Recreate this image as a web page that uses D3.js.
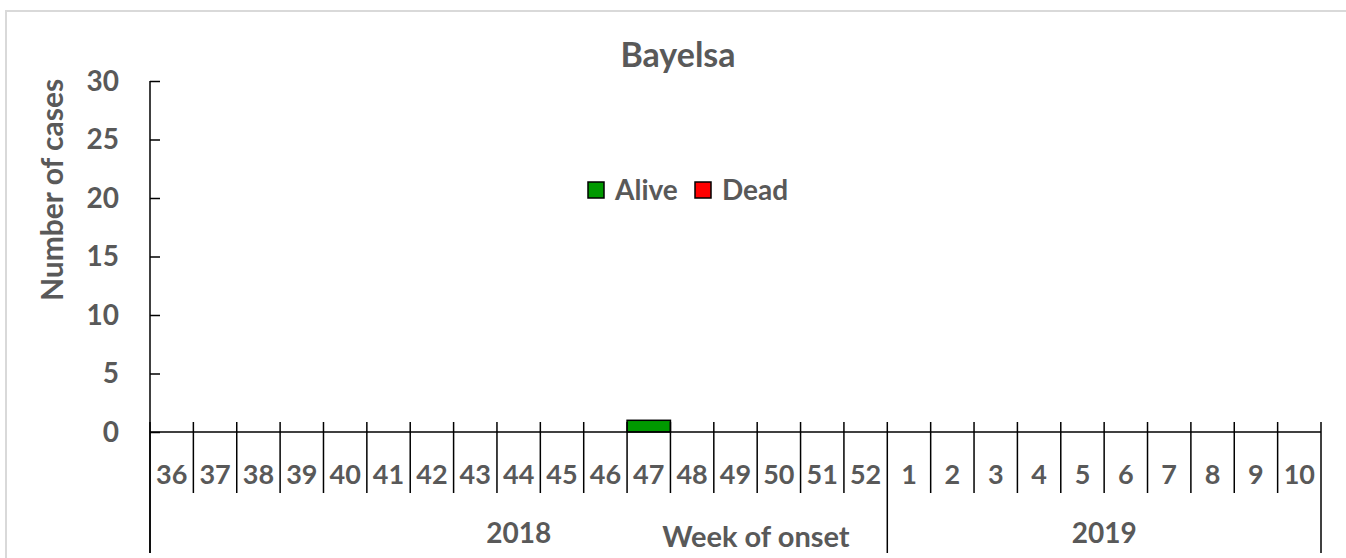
<!DOCTYPE html>
<html>
<head>
<meta charset="utf-8">
<script src="https://cdn.jsdelivr.net/npm/d3@7"></script>
<style>
  html, body { margin: 0; background: #fff; overflow: hidden; }
  svg { display: block; }
  text { font-family: Lato, "Open Sans", sans-serif; font-weight: bold; fill: #595959; }
  .axis path, .axis line { stroke: #000; stroke-width: 1.5; }
</style>
</head>
<body>
<svg id="chart"></svg>
<script>
// data
const weeks = ["36","37","38","39","40","41","42","43","44","45","46","47","48","49","50","51","52",
               "1","2","3","4","5","6","7","8","9","10"];
const years = ["2018", "2018", "2018", "2018", "2018", "2018", "2018", "2018", "2018", "2018", "2018", "2018", "2018", "2018", "2018", "2018", "2018",
               "2019", "2019", "2019", "2019", "2019", "2019", "2019", "2019", "2019", "2019"];
const alive = [0,0,0,0,0,0,0,0,0,0,0,1,0,0,0,0,0, 0,0,0,0,0,0,0,0,0,0];
const dead  = [0,0,0,0,0,0,0,0,0,0,0,0,0,0,0,0,0, 0,0,0,0,0,0,0,0,0,0];
const yTicks = [0, 5, 10, 15, 20, 25, 30];
const seriesNames = ["Alive", "Dead"];
const seriesColors = ["#009900", "#ff0000"];

const width = 1346, height = 558;
const margin = { top: 81, left: 150, right: 25, bottom: 126 };
const innerW = width - margin.left - margin.right;
const innerH = height - margin.top - margin.bottom;

const svg = d3.select("#chart").attr("width", width).attr("height", height);

// outer frame: only top and left edges show in the picture
svg.append("path")
    .attr("d", `M6,${height}V11H${width}`)
    .attr("fill", "none")
    .attr("stroke", "#d9d9d9")
    .attr("stroke-width", 2);

const chart = svg.append("g").attr("transform", `translate(${margin.left},${margin.top})`);

const rows = weeks.map((w, i) => ({ key: i, week: w, year: years[i], Alive: alive[i], Dead: dead[i] }));

const xScale = d3.scaleBand().domain(rows.map(d => d.key)).range([0, innerW]).padding(0);
const yScale = d3.scaleLinear().domain([0, 30]).range([innerH, 0]);
const color = d3.scaleOrdinal().domain(seriesNames).range(seriesColors);

// stacked bars
const stacked = d3.stack().keys(seriesNames)(rows);
chart.selectAll("g.series")
    .data(stacked)
    .join("g")
    .attr("class", "series")
    .attr("fill", d => color(d.key))
    .selectAll("rect")
    .data(d => d.filter(p => p[1] - p[0] > 0))
    .join("rect")
    .attr("x", d => xScale(d.data.key))
    .attr("y", d => yScale(d[1]))
    .attr("width", xScale.bandwidth())
    .attr("height", d => yScale(d[0]) - yScale(d[1]))
    .attr("stroke", "#000")
    .attr("stroke-width", 1.5);

// y axis, ticks inside
const yAxis = d3.axisRight(yScale).tickValues(yTicks).tickSize(10).tickFormat("");
chart.append("g").attr("class", "axis").call(yAxis).call(g => g.select(".domain").remove());
chart.append("line")
    .attr("x1", 0).attr("x2", 0)
    .attr("y1", yScale(30)).attr("y2", innerH + 121)
    .attr("stroke", "#000").attr("stroke-width", 1.5);
chart.selectAll("text.ytick")
    .data(yTicks)
    .join("text")
    .attr("class", "ytick")
    .attr("x", -31)
    .attr("y", d => yScale(d))
    .attr("dy", "0.35em")
    .attr("text-anchor", "end")
    .style("font-size", "28px")
    .text(d => d);

// x axis baseline + category dividers
chart.append("line")
    .attr("x1", 0).attr("x2", innerW)
    .attr("y1", innerH).attr("y2", innerH)
    .attr("stroke", "#000").attr("stroke-width", 1.5);

const boundaries = d3.range(rows.length + 1);
chart.selectAll("line.div")
    .data(boundaries)
    .join("line")
    .attr("class", "div")
    .attr("x1", i => i * xScale.step())
    .attr("x2", i => i * xScale.step())
    .attr("y1", innerH - 10)
    .attr("y2", i => (i === 0 || i === rows.length || years[i] !== years[i - 1]) ? innerH + 121 : innerH + 61)
    .attr("stroke", "#000").attr("stroke-width", 1.5);

chart.selectAll("text.week")
    .data(rows)
    .join("text")
    .attr("class", "week")
    .attr("x", d => xScale(d.key) + xScale.bandwidth() / 2)
    .attr("y", innerH + 52)
    .attr("text-anchor", "middle")
    .style("font-size", "27px")
    .text(d => d.week);

// year group labels
const yearGroups = d3.groups(rows, d => d.year);
chart.selectAll("text.year")
    .data(yearGroups)
    .join("text")
    .attr("class", "year")
    .attr("x", d => (xScale(d[1][0].key) + xScale(d[1][d[1].length - 1].key) + xScale.bandwidth()) / 2)
    .attr("y", innerH + 111)
    .attr("text-anchor", "middle")
    .style("font-size", "28px")
    .text(d => d[0]);

// axis titles
svg.append("text")
    .attr("x", 756)
    .attr("y", 547)
    .attr("text-anchor", "middle")
    .style("font-size", "29px")
    .text("Week of onset");

svg.append("text")
    .attr("transform", "rotate(-90)")
    .attr("x", -190)
    .attr("y", 63)
    .attr("text-anchor", "middle")
    .style("font-size", "30px")
    .text("Number of cases");

svg.append("text")
    .attr("x", 678)
    .attr("y", 67)
    .attr("text-anchor", "middle")
    .style("font-size", "34px")
    .text("Bayelsa");

// legend
const legendX = [588, 695];
const legend = svg.selectAll("g.legend")
    .data(seriesNames)
    .join("g")
    .attr("class", "legend")
    .attr("transform", (d, i) => `translate(${legendX[i]},182)`);
legend.append("rect")
    .attr("width", 16).attr("height", 16)
    .attr("fill", d => color(d))
    .attr("stroke", "#000").attr("stroke-width", 1.5);
legend.append("text")
    .attr("x", 27)
    .attr("y", 8)
    .attr("dy", "0.36em")
    .style("font-size", "28px")
    .text(d => d);
</script>
</body>
</html>
